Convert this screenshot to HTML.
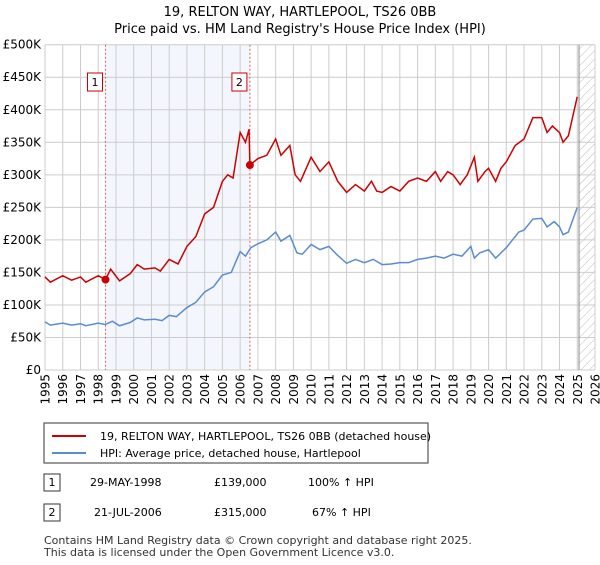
<!DOCTYPE html>
<html><head><meta charset="utf-8"><style>
body{margin:0;background:#fff;font-family:"Liberation Sans","DejaVu Sans",sans-serif;}
svg text{font-family:"DejaVu Sans","Liberation Sans",sans-serif;}
</style></head><body>
<svg id="c" width="600" height="560" xmlns="http://www.w3.org/2000/svg">
<defs><pattern id="hatch" width="6" height="6" patternUnits="userSpaceOnUse" patternTransform="rotate(45)"><line x1="0" y1="0" x2="0" y2="6" stroke="#bbb" stroke-width="1"/></pattern></defs>
<text x="300" y="16" text-anchor="middle" font-size="13">19, RELTON WAY, HARTLEPOOL, TS26 0BB</text>
<text x="300" y="33" text-anchor="middle" font-size="13">Price paid vs. HM Land Registry's House Price Index (HPI)</text>
<g id="plot"></g>
<rect x="44" y="423" width="384" height="40" fill="#fff" stroke="#333"/>
<line x1="52" y1="436" x2="86" y2="436" stroke="#cc0000" stroke-width="2"/>
<text x="100" y="440" font-size="11">19, RELTON WAY, HARTLEPOOL, TS26 0BB (detached house)</text>
<line x1="52" y1="453" x2="86" y2="453" stroke="#5b8bd0" stroke-width="2"/>
<text x="100" y="457" font-size="11">HPI: Average price, detached house, Hartlepool</text>
<rect x="44" y="474" width="16" height="17" fill="#fff" stroke="#333"/>
<text x="52" y="486" text-anchor="middle" font-size="11">1</text>
<text x="90" y="486" font-size="11">29-MAY-1998</text>
<text x="214" y="486" font-size="11">£139,000</text>
<text x="308" y="486" font-size="11">100% ↑ HPI</text>
<rect x="44" y="504" width="16" height="17" fill="#fff" stroke="#333"/>
<text x="52" y="516" text-anchor="middle" font-size="11">2</text>
<text x="94" y="516" font-size="11">21-JUL-2006</text>
<text x="214" y="516" font-size="11">£315,000</text>
<text x="312" y="516" font-size="11">67% ↑ HPI</text>
<text x="44" y="544" font-size="11" fill="#333">Contains HM Land Registry data © Crown copyright and database right 2025.</text>
<text x="44" y="556" font-size="11" fill="#333">This data is licensed under the Open Government Licence v3.0.</text>
</svg>
<script>
const yTicks=[0,50,100,150,200,250,300,350,400,450,500];
const yTickLabels=["£0","£50K","£100K","£150K","£200K","£250K","£300K","£350K","£400K","£450K","£500K"];
const xYears=[1995,1996,1997,1998,1999,2000,2001,2002,2003,2004,2005,2006,2007,2008,2009,2010,2011,2012,2013,2014,2015,2016,2017,2018,2019,2020,2021,2022,2023,2024,2025,2026];
const hpiT=[1995,1995.3,1996,1996.5,1997,1997.3,1998,1998.4,1998.8,1999.2,1999.8,2000.2,2000.6,2001.2,2001.6,2002,2002.4,2003,2003.5,2004,2004.5,2005,2005.5,2006,2006.3,2006.6,2007,2007.5,2008,2008.3,2008.8,2009.2,2009.5,2010,2010.5,2011,2011.5,2012,2012.5,2013,2013.5,2014,2014.5,2015,2015.5,2016,2016.5,2017,2017.5,2018,2018.5,2019,2019.2,2019.5,2020,2020.4,2020.7,2021,2021.7,2022,2022.5,2023,2023.3,2023.7,2024,2024.2,2024.5,2025];
const hpiV=[74,69,72,69,71,68,72,70,75,68,73,80,77,78,76,84,82,96,104,120,128,146,150,182,175,188,194,200,212,198,207,180,178,193,185,190,176,164,170,165,170,162,163,165,165,170,172,175,172,178,175,190,172,180,185,172,180,188,212,215,232,233,220,228,220,208,212,250];
const priceT=[1995,1995.3,1996,1996.5,1997,1997.3,1998,1998.41,1998.7,1999.2,1999.8,2000.2,2000.6,2001.2,2001.5,2002,2002.5,2003,2003.5,2004,2004.5,2005,2005.3,2005.6,2006,2006.3,2006.5,2006.55,2007,2007.5,2008,2008.3,2008.8,2009.1,2009.4,2010,2010.5,2011,2011.5,2012,2012.5,2013,2013.4,2013.7,2014,2014.5,2015,2015.5,2016,2016.5,2017,2017.3,2017.7,2018,2018.4,2018.8,2019.2,2019.4,2019.8,2020,2020.4,2020.7,2021,2021.5,2022,2022.5,2023,2023.3,2023.6,2024,2024.2,2024.5,2025];
const priceV=[143,135,145,138,143,135,145,139,155,137,148,162,155,157,152,170,163,190,205,240,250,290,300,295,365,350,370,315,325,330,355,330,345,300,290,327,305,320,290,273,285,275,290,275,273,282,275,290,295,290,305,290,305,300,285,300,327,290,305,310,290,310,320,345,355,388,388,365,375,365,350,360,420];
const saleT=[1998.41,2006.55];
const saleV=[139,315];
const saleLabels=["1","2"];
const X0=45,X1=595,Y0=370,Y1=44.7,T0=1995,T1=2026,VMAX=500,TEND=2025.1;
const sx=t=>X0+(t-T0)/(T1-T0)*(X1-X0);
const sy=v=>Y0-(v/VMAX)*(Y0-Y1);
const NS="http://www.w3.org/2000/svg";
const g=document.getElementById('plot');
function el(tag,attrs){const e=document.createElementNS(NS,tag);for(const k in attrs)e.setAttribute(k,attrs[k]);g.appendChild(e);return e;}
let band=el('rect',{x:sx(saleT[0]),y:Y1,width:sx(saleT[1])-sx(saleT[0]),height:Y0-Y1,fill:'#eef3fc',opacity:0.7});


let hat=el('rect',{x:sx(TEND),y:Y1,width:X1-sx(TEND),height:Y0-Y1,fill:'url(#hatch)'});


xYears.forEach(y=>{let l=el('line',{x1:sx(y),x2:sx(y),y1:Y1,y2:Y0,stroke:'#ccc','stroke-width':1});


const tx=sx(y)+4.5,ty=374;
let t=el('text',{x:tx,y:ty,'text-anchor':'end','font-size':12,transform:'rotate(-90 '+tx+' '+ty+')'});t.textContent=y;

});
yTicks.forEach((v,i)=>{let l=el('line',{x1:X0,x2:X1,y1:sy(v),y2:sy(v),stroke:'#ccc','stroke-width':1});


let t=el('text',{x:41,y:sy(v)+4,'text-anchor':'end','font-size':12});t.textContent=yTickLabels[i];

});
let ed=el('line',{x1:sx(TEND),x2:sx(TEND),y1:Y1,y2:Y0,stroke:'#888','stroke-width':1});


saleT.forEach((t,i)=>{let l=el('line',{x1:sx(t),x2:sx(t),y1:Y1,y2:Y0,stroke:'#e06060','stroke-dasharray':'2,2','stroke-width':1});


let b=el('rect',{x:sx(t)-18,y:73,width:15,height:18,fill:'#fff',stroke:'#cc0000'});


let tx=el('text',{x:sx(t)-10.5,y:86,'text-anchor':'middle','font-size':11});tx.textContent=saleLabels[i];

});
let pb=el('polyline',{points:hpiT.map((t,i)=>sx(t)+','+sy(hpiV[i])).join(' '),fill:'none',stroke:'#5b8bd0','stroke-width':1.5});


let pr=el('polyline',{points:priceT.map((t,i)=>sx(t)+','+sy(priceV[i])).join(' '),fill:'none',stroke:'#cc0000','stroke-width':1.5});


saleT.forEach((t,i)=>{let c=el('circle',{cx:sx(t),cy:sy(saleV[i]),r:4,fill:'#cc0000'});

});
</script>
</body></html>
